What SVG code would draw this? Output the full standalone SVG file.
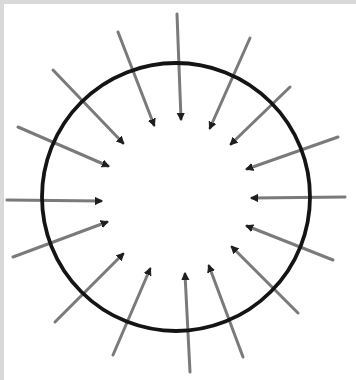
<svg xmlns="http://www.w3.org/2000/svg" width="356" height="380" viewBox="0 0 356 380">
<style>
.ar{stroke:#7a7a7a;stroke-width:3;fill:none;marker-end:url(#h);stroke-linecap:round}
.ring{fill:none;stroke:#141414;stroke-width:3.8}
</style>
<defs>
<marker id="h" markerUnits="userSpaceOnUse" markerWidth="10" markerHeight="10" refX="6" refY="4" orient="auto">
<path d="M0,0.5 L7,4 L0,7.5 Z" fill="#1e1e1e" stroke="#1e1e1e" stroke-width="1" stroke-linejoin="round"/>
</marker>
</defs>
<rect x="0" y="0" width="356" height="380" fill="#d9d9d9"/>
<rect x="4" y="4" width="352" height="376" fill="#ffffff"/>
<g id="connectors">
<line class="ar" x1="177" y1="14" x2="181" y2="119"/>
<line class="ar" x1="250" y1="38" x2="210" y2="128"/>
<line class="ar" x1="290" y1="87" x2="231" y2="144"/>
<line class="ar" x1="338" y1="137" x2="247" y2="169"/>
<line class="ar" x1="345" y1="197" x2="252" y2="198"/>
<line class="ar" x1="333" y1="260" x2="247" y2="226"/>
<line class="ar" x1="298" y1="313" x2="232" y2="247"/>
<line class="ar" x1="243" y1="357" x2="209" y2="266"/>
<line class="ar" x1="190" y1="372" x2="185" y2="274"/>
<line class="ar" x1="113" y1="355" x2="150" y2="269"/>
<line class="ar" x1="55" y1="322" x2="123" y2="254"/>
<line class="ar" x1="13" y1="257" x2="107" y2="222"/>
<line class="ar" x1="7" y1="200" x2="101" y2="201"/>
<line class="ar" x1="18" y1="127" x2="108" y2="166"/>
<line class="ar" x1="53" y1="70" x2="123" y2="143"/>
<line class="ar" x1="118" y1="32" x2="154" y2="125"/>
</g>
<g id="ring"><circle class="ring" cx="176" cy="197" r="134"/></g>
</svg>
